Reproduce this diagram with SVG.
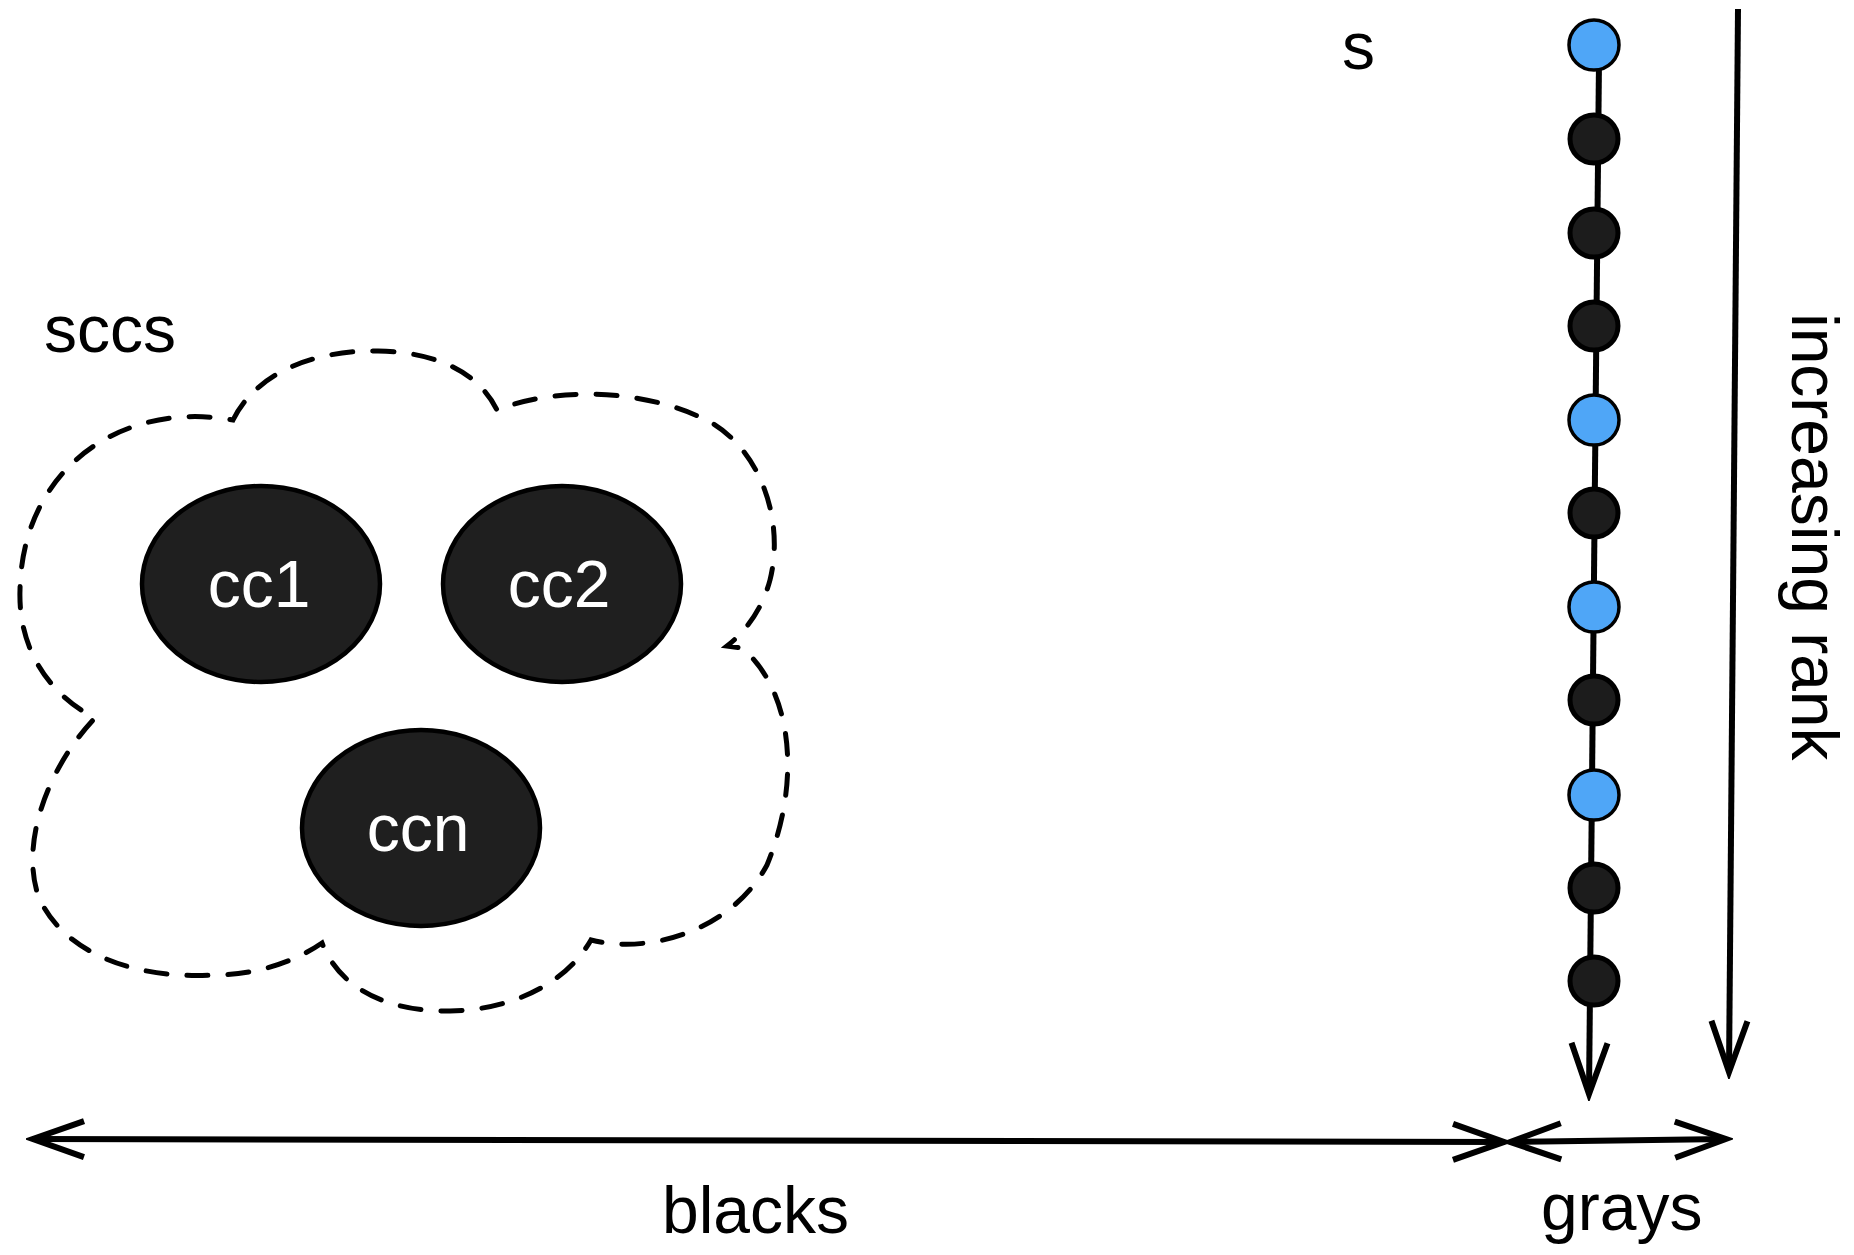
<svg xmlns="http://www.w3.org/2000/svg" width="1854" height="1255" viewBox="0 0 1854 1255">
<style>
.lbl{font-family:"Liberation Sans",Arial,sans-serif;font-size:66px;fill:#000}
.in{font-family:"Liberation Sans",Arial,sans-serif;font-size:66px;fill:#fff;text-anchor:middle}
.cc{fill:#1f1f1f;stroke:#000;stroke-width:4.5}
.blk{fill:#1c1c1c;stroke:#000;stroke-width:5}
.blu{fill:#4fa6f7;stroke:#000;stroke-width:3.5}
.ln{stroke:#000;stroke-width:6;fill:none}
</style>
<defs>
<marker id="v" markerUnits="userSpaceOnUse" markerWidth="66" markerHeight="56" viewBox="-59 -28 66 56" refX="0" refY="0" orient="auto-start-reverse">
<path d="M-51,-18 L0,0 L-51,18" fill="none" stroke="#000" stroke-width="6"/>
</marker>
</defs>
<rect width="1854" height="1255" fill="#fff"/>
<g id="sccs">
<path d="M233,420 C255,375 310,350 378,351 C440,352 480,375 497,410 C560,385 650,390 710,422 C760,450 785,520 770,580 C762,610 745,632 727,646 L742,648 C792,690 802,780 767,865 C732,930 650,955 591,940 C565,985 510,1010 450,1011 C390,1012 340,990 322,943 C290,965 250,975 215,975 C130,980 60,950 38,895 C20,840 50,765 95,718 C50,695 18,650 20,590 C22,470 120,400 233,420 Z" fill="none" stroke="#000" stroke-width="5" stroke-linecap="round" stroke-dasharray="21 20"/>
<text class="lbl" x="44" y="352">sccs</text>
</g>
<g id="cc1"><ellipse class="cc" cx="261" cy="584" rx="119" ry="98"/><text class="in" x="259" y="607">cc1</text></g>
<g id="cc2"><ellipse class="cc" cx="562" cy="584" rx="119" ry="98"/><text class="in" x="559" y="607">cc2</text></g>
<g id="ccn"><ellipse class="cc" cx="421" cy="828" rx="119" ry="98"/><text class="in" x="418" y="851">ccn</text></g>
<g id="connectors">
<line class="ln" x1="1599" y1="60" x2="1589" y2="1094" marker-end="url(#v)"/>
<line class="ln" x1="1738" y1="9" x2="1729" y2="1072" marker-end="url(#v)"/>
<line class="ln" x1="33" y1="1139" x2="1504" y2="1142" marker-start="url(#v)" marker-end="url(#v)"/>
<line class="ln" x1="1510" y1="1142" x2="1726" y2="1139" marker-start="url(#v)" marker-end="url(#v)"/>
</g>
<g id="chain">
<circle class="blu" cx="1594" cy="45" r="25"/>
<circle class="blk" cx="1594" cy="139" r="24"/>
<circle class="blk" cx="1594" cy="233" r="24"/>
<circle class="blk" cx="1594" cy="326" r="24"/>
<circle class="blu" cx="1594" cy="420" r="25"/>
<circle class="blk" cx="1594" cy="513" r="24"/>
<circle class="blu" cx="1594" cy="607" r="25"/>
<circle class="blk" cx="1594" cy="700" r="24"/>
<circle class="blu" cx="1594" cy="795" r="25"/>
<circle class="blk" cx="1594" cy="888" r="24"/>
<circle class="blk" cx="1594" cy="981" r="24"/>
</g>
<text class="lbl" x="1342" y="69">s</text>
<text class="lbl" x="662" y="1233">blacks</text>
<text class="lbl" x="1541" y="1230">grays</text>
<text class="lbl" transform="translate(1792,313) rotate(90)">increasing rank</text>
</svg>
